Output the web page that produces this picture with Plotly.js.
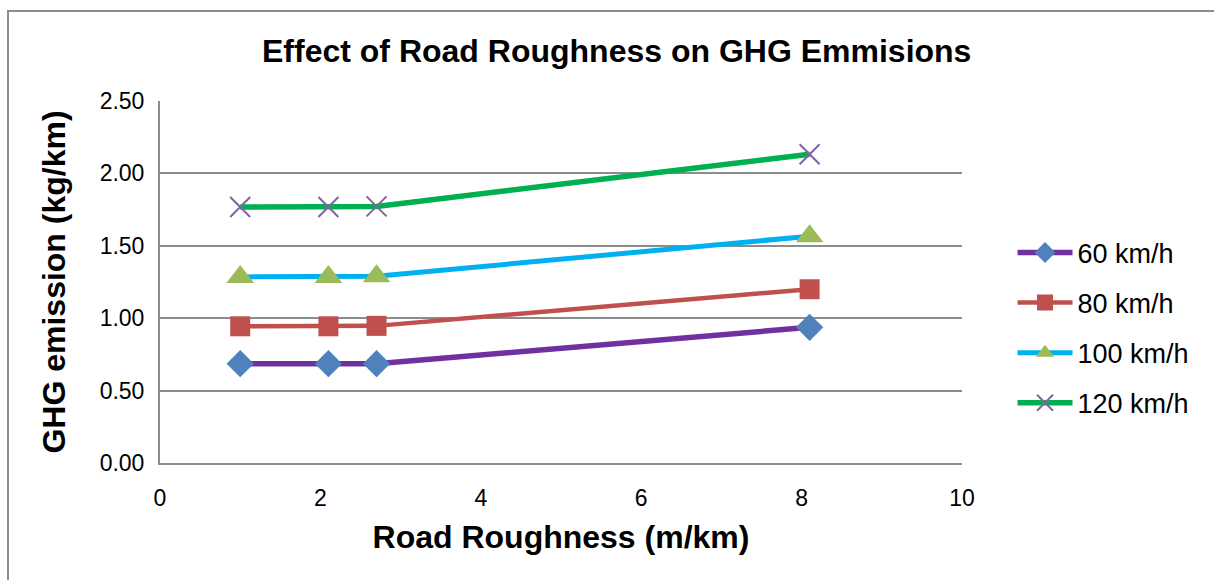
<!DOCTYPE html>
<html>
<head>
<meta charset="utf-8">
<script src="https://cdn.plot.ly/plotly-3.0.1.min.js"></script>
<style>
  html, body { margin: 0; padding: 0; background: #fff; overflow: hidden; }
  #wrap { position: relative; width: 1214px; height: 580px; }
  #frame { position: absolute; left: 7px; top: 10px; width: 1260px; height: 620px; border: 2px solid #8c8c8c; box-sizing: border-box; pointer-events: none; z-index: 5; }
  #chart { position: absolute; left: 0; top: 0; width: 1214px; height: 580px; }
</style>
</head>
<body>
<div id="wrap">
  <div id="chart"></div>
  <div id="frame"></div>
</div>
<script>
// Data
const roughness = [1, 2.1, 2.7, 8.1];
const seriesNames = ['60 km/h', '80 km/h', '100 km/h', '120 km/h'];
const ghg60  = [0.686, 0.686, 0.686, 0.937];
const ghg80  = [0.944, 0.944, 0.947, 1.200];
const ghg100 = [1.285, 1.285, 1.290, 1.566];
const ghg120 = [1.768, 1.768, 1.772, 2.132];
const xTicks = [0, 2, 4, 6, 8, 10];
const yTicks = [0, 0.5, 1.0, 1.5, 2.0, 2.5];

const lineColors   = ['#7030A0', '#C0504D', '#00B0F0', '#00B050'];
const markerColors = ['#4F81BD', '#C0504D', '#9BBB59', '#8064A2'];
const symbols      = ['diamond', 'square', 'triangle-up', 'x-thin'];
const sizes        = [21, 20, 24, 20];
const lineWidths   = [5.5, 4.5, 5, 5.5];
const values = [ghg60, ghg80, ghg100, ghg120];

const traces = values.map((v, i) => ({
  type: 'scatter',
  mode: 'lines+markers',
  x: roughness,
  y: v,
  name: seriesNames[i],
  legendgroup: 'g' + i,
  line: { color: lineColors[i], width: lineWidths[i] },
  marker: {
    symbol: symbols[i],
    size: sizes[i],
    color: markerColors[i],
    line: symbols[i] === 'x-thin' ? { width: 2, color: markerColors[i] } : { width: 0 }
  },
  cliponaxis: false
}));

const font = "'Liberation Sans', Arial, sans-serif";
const layout = {
  width: 1214,
  height: 580,
  margin: { l: 160, r: 252, t: 101, b: 117 },
  paper_bgcolor: '#ffffff',
  plot_bgcolor: '#ffffff',
  font: { family: font, color: '#000000', size: 22 },
  title: {
    text: '<b>Effect of Road Roughness on GHG Emmisions</b>',
    font: { family: font, size: 32, color: '#000' },
    x: 0.508, xref: 'container', xanchor: 'center',
    y: 0.913, yref: 'container', yanchor: 'middle'
  },
  xaxis: {
    range: [0, 10],
    tickvals: xTicks,
    ticktext: xTicks.map(String),
    showgrid: false,
    zeroline: false,
    showline: true,
    linecolor: '#8c8c8c',
    linewidth: 2,
    ticks: '',
    ticklabelstandoff: 13,
    tickfont: { size: 23 },
    automargin: false,
    title: { text: '<b>Road Roughness (m/km)</b>', font: { size: 32 }, standoff: 16 }
  },
  yaxis: {
    range: [0, 2.5],
    tickvals: yTicks,
    ticktext: yTicks.map(v => v.toFixed(2)),
    showgrid: true,
    gridcolor: '#8c8c8c',
    gridwidth: 2,
    zeroline: false,
    showline: true,
    linecolor: '#8c8c8c',
    linewidth: 2,
    ticks: '',
    ticklabelstandoff: 9,
    tickfont: { size: 23 },
    automargin: false,
    title: { text: '<b>GHG emission (kg/km)</b>', font: { size: 32 }, standoff: 24 }
  },
  showlegend: true,
  legend: {
    x: 1.063, xanchor: 'left',
    y: 0.373, yanchor: 'middle',
    font: { size: 27, family: font },
    tracegroupgap: 12,
    itemwidth: 55,
    bgcolor: 'rgba(0,0,0,0)'
  }
};

Plotly.newPlot('chart', traces, layout, { displayModeBar: false, staticPlot: true });
</script>
</body>
</html>
